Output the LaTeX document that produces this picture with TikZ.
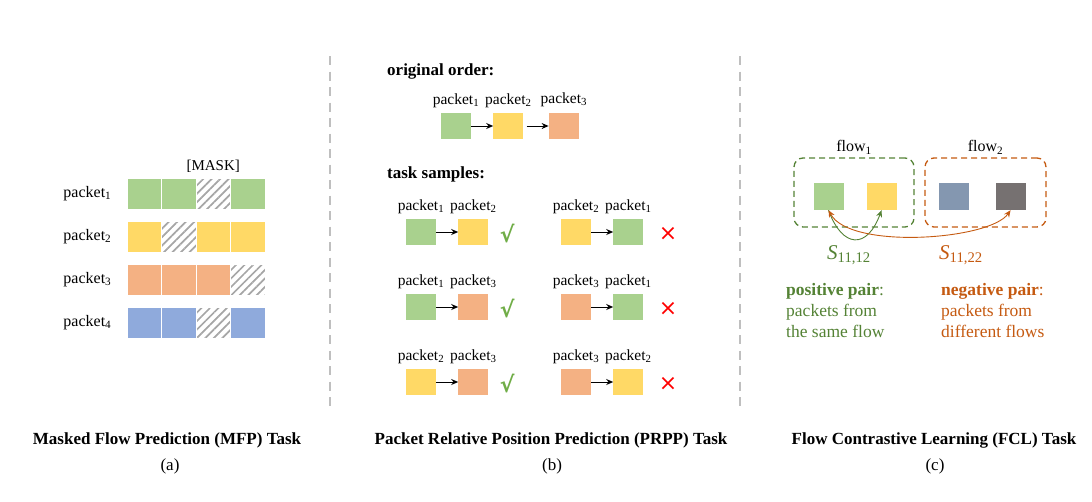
\documentclass[tikz,border=0pt]{standalone}
\usepackage{fontspec}
\setmainfont{Liberation Serif}
\newfontfamily\symfont{DejaVu Sans}
\usepackage{tikz}
\usetikzlibrary{arrows.meta,positioning,patterns.meta}
\usepackage{xcolor}
\definecolor{pgreen}{HTML}{A9D18E}
\definecolor{pyellow}{HTML}{FFD966}
\definecolor{porange}{HTML}{F4B183}
\definecolor{pblue}{HTML}{8FAADC}
\definecolor{pslate}{HTML}{8497B0}
\definecolor{pdark}{HTML}{767171}
\definecolor{posgreen}{HTML}{548235}
\definecolor{negorange}{HTML}{C55A11}
\definecolor{okgreen}{HTML}{70AD47}
\definecolor{hatchgray}{HTML}{A6A6A6}
\definecolor{divgray}{HTML}{BFBFBF}

\begin{document}
\begin{tikzpicture}[x=1pt, y=-1pt, node distance=22pt, every node/.style={font=\fontsize{15}{17}\selectfont, inner sep=1pt}]
\tikzset{cell/.style={draw=white, line width=1pt, minimum width=34.5pt, minimum height=31pt, inner sep=0pt}}
\tikzset{hatch/.style={cell, fill=white, pattern={Lines[angle=45,distance=6pt,line width=1.7pt]}, pattern color=hatchgray}}
\tikzset{pkt/.style={minimum width=30pt, minimum height=26pt, inner sep=0pt}}
\tikzset{lbla/.style={font=\fontsize{16}{18}\selectfont}}
\tikzset{lblb/.style={font=\fontsize{15.5}{17}\selectfont}}
\tikzset{head/.style={font=\fontsize{17}{19}\selectfont\bfseries, anchor=west}}
\tikzset{title/.style={font=\fontsize{17}{19}\selectfont\bfseries}}
\tikzset{sub/.style={font=\fontsize{17}{19}\selectfont}}
\tikzset{sim/.style={font=\fontsize{21}{21}\selectfont}}
\tikzset{arr/.style={-{Stealth[length=7pt,width=6pt]}, line width=1pt}}
\tikzset{ok/.style={font=\fontsize{22}{22}\selectfont\symfont\bfseries, text=okgreen}}
\tikzset{nok/.style={font=\fontsize{22}{22}\selectfont\symfont, text=red}}
\tikzset{flowbox/.style={draw, dashed, dash pattern=on 6pt off 4pt, line width=1.3pt, rounded corners=9pt}}
\tikzset{divider/.style={divgray, line width=2pt, dash pattern=on 9pt off 6.5pt}}
\useasboundingbox (0,0) rectangle (1092,501);

% (a) masked flow prediction
\foreach \clr/\m [count=\r] in {pgreen/3, pyellow/2, porange/4, pblue/3} {
  \foreach \c in {1,...,4} {
    \ifnum\c=\m\relax
      \node[hatch] (c\r\c) at (109.75+34.5*\c, 150.5+43*\r) {};
    \else
      \node[cell, fill=\clr] (c\r\c) at (109.75+34.5*\c, 150.5+43*\r) {};
    \fi
  }
  \node[lbla, left=14pt of c\r1] (pa\r) {packet\textsubscript{\r}};
}
\node[above=3pt of c13] (mask) {[MASK]};

% (b) packet relative position prediction
\node[head] (orig) at (386,71) {original order:};
\node[pkt, fill=pgreen] (o1) at (456,126) {};
\node[pkt, fill=pyellow, right=of o1] (o2) {};
\node[pkt, fill=porange, right=25pt of o2] (o3) {};
\node[lblb, above=4pt of o1] (ol1) {packet\textsubscript{1}};
\node[lblb, above=4pt of o2] (ol2) {packet\textsubscript{2}};
\node[lblb, above=5pt of o3] (ol3) {packet\textsubscript{3}};
\draw[arr] (o1) -- (o2);
\draw[arr, shorten <=3pt] (o2) -- (o3);

\node[head] (task) at (386,174) {task samples:};
\foreach \pa/\pb/\ca/\cb [count=\r] in {1/2/pgreen/pyellow, 1/3/pgreen/porange, 2/3/pyellow/porange} {
  \node[pkt, fill=\ca] (la\r) at (421,157+75*\r) {};
  \node[pkt, fill=\cb, right=of la\r] (lb\r) {};
  \node[lblb, above=4pt of la\r] (tla\r) {packet\textsubscript{\pa}};
  \node[lblb, above=4pt of lb\r] (tlb\r) {packet\textsubscript{\pb}};
  \draw[arr] (la\r) -- (lb\r);
  \node[ok, right=10pt of lb\r, yshift=-2pt] (ok\r) {√};
  \node[pkt, fill=\cb] (ra\r) at (576,157+75*\r) {};
  \node[pkt, fill=\ca, right=of ra\r] (rb\r) {};
  \node[lblb, above=4pt of ra\r] (tra\r) {packet\textsubscript{\pb}};
  \node[lblb, above=4pt of rb\r] (trb\r) {packet\textsubscript{\pa}};
  \draw[arr] (ra\r) -- (rb\r);
  \node[nok, right=14pt of rb\r, yshift=-2pt] (no\r) {×};
}

% (c) flow contrastive learning
\node[flowbox, posgreen, minimum width=120pt, minimum height=69pt] (f1) at (854,192.5) {};
\node[flowbox, negorange, minimum width=121pt, minimum height=69pt] (f2) at (985.5,192.5) {};
\node[lbla, above=2pt of f1] (fl1) {flow\textsubscript{1}};
\node[lbla, above=2pt of f2] (fl2) {flow\textsubscript{2}};
\node[pkt, minimum height=27pt, fill=pgreen] (k1) at (828.5,196.5) {};
\node[pkt, minimum height=27pt, fill=pyellow] (k2) at (881.5,196.5) {};
\node[pkt, minimum height=27pt, fill=pslate] (k3) at (953.5,196.5) {};
\node[pkt, minimum height=27pt, fill=pdark] (k4) at (1010.5,196.5) {};
\draw[posgreen, line width=0.9pt, -{Stealth[length=7pt,width=6pt]}] (k1.south) to[out=-70, in=-110, looseness=2] (k2.south);
\draw[negorange, line width=0.9pt, {Stealth[length=7pt,width=6pt]}-{Stealth[length=7pt,width=6pt]}] (k1.south) .. controls (850,250) and (990,240) .. (k4.south);
\node[sim, text=posgreen] (s1) at (849,255) {\textit{S}\textsubscript{11,12}};
\node[sim, text=negorange] (s2) at (961,255) {\textit{S}\textsubscript{11,22}};
\node[text=posgreen, anchor=north west, align=left, font=\fontsize{17.5}{21}\selectfont] (pos) at (785,282) {\textbf{positive pair}:\\packets from\\the same flow};
\node[text=negorange, anchor=north west, align=left, font=\fontsize{17.5}{21}\selectfont] (neg) at (940,282) {\textbf{negative pair}:\\packets from\\different flows};

% dividers and captions
\draw[divider] (330,56) -- (330,412);
\draw[divider] (740,56) -- (740,412);
\node[title] (ta) at (167,440) {Masked Flow Prediction (MFP) Task};
\node[sub] (ca) at (170,466) {(a)};
\node[title] (tb) at (551,440) {Packet Relative Position Prediction (PRPP) Task};
\node[sub] (cb) at (552,466) {(b)};
\node[title] (tc) at (934,440) {Flow Contrastive Learning (FCL) Task};
\node[sub] (cc) at (935,466) {(c)};
\end{tikzpicture}
\end{document}
